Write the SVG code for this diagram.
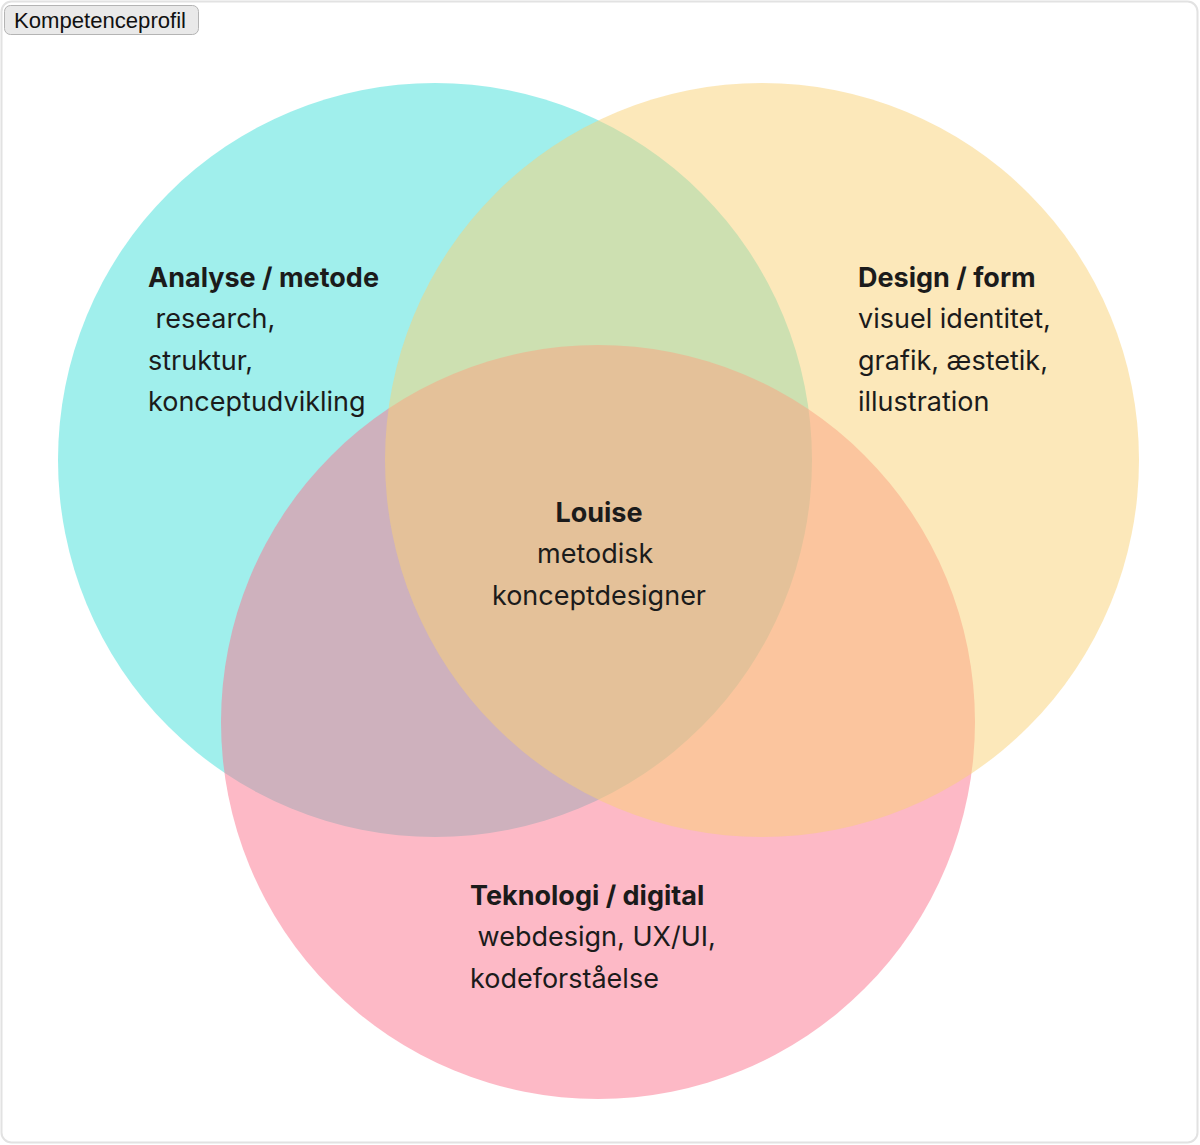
<svg xmlns="http://www.w3.org/2000/svg" width="1200" height="1145" viewBox="0 0 1200 1145">
<style>
.t{font-family:Inter,"Noto Sans",sans-serif;font-size:27px;fill:#1b1b1b;white-space:pre}
.b{font-weight:700}
</style>
<rect x="0" y="0" width="1200" height="1145" fill="#ffffff"/>
<rect x="1.5" y="1.5" width="1196" height="1141" rx="10" fill="#ffffff" stroke="#e2e2e2" stroke-width="2"/>
<g id="btn">
<rect x="4.5" y="5.5" width="194" height="29" rx="6" fill="#e9e9e9" stroke="#b4b4b4"/>
<text x="14" y="28" font-family="'Liberation Sans',Arial,sans-serif" font-size="21.5" textLength="172" lengthAdjust="spacingAndGlyphs" fill="#111">Kompetenceprofil</text>
</g>
<g id="analyse">
<circle cx="435" cy="460" r="377" fill="#42dfd9" fill-opacity="0.5"/>
</g>
<g id="teknologi">
<circle cx="598" cy="722" r="377" fill="#fb748d" fill-opacity="0.5"/>
</g>
<g id="design">
<circle cx="762" cy="460" r="377" fill="#f9d276" fill-opacity="0.5"/>
</g>
<g id="connectors"></g>
<g id="labels-analyse">
<text class="t b" x="148" y="287">Analyse / metode</text>
<text class="t" x="148" y="328"> research,</text>
<text class="t" x="148" y="370">struktur,</text>
<text class="t" x="148" y="411">konceptudvikling</text>
</g>
<g id="labels-design">
<text class="t b" x="858" y="287">Design / form</text>
<text class="t" x="858" y="328">visuel identitet,</text>
<text class="t" x="858" y="370">grafik, æstetik,</text>
<text class="t" x="858" y="411">illustration</text>
</g>
<g id="labels-center">
<text class="t b" x="599" y="522" text-anchor="middle">Louise</text>
<text class="t" x="599" y="563" text-anchor="middle">metodisk </text>
<text class="t" x="599" y="605" text-anchor="middle">konceptdesigner</text>
</g>
<g id="labels-teknologi">
<text class="t b" x="470" y="905">Teknologi / digital</text>
<text class="t" x="470" y="946"> webdesign, UX/UI,</text>
<text class="t" x="470" y="988">kodeforståelse</text>
</g>
</svg>
